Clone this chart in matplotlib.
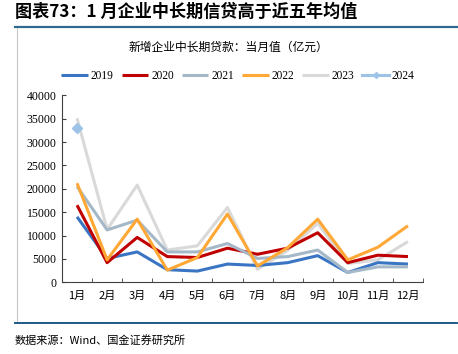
import matplotlib
matplotlib.use("Agg")
import matplotlib.pyplot as plt
from matplotlib.lines import Line2D

plt.rcParams['font.family'] = ['Noto Sans CJK SC', 'DejaVu Sans']

months = ["1月", "2月", "3月", "4月", "5月", "6月", "7月", "8月", "9月", "10月", "11月", "12月"]
y2019 = [14000, 5100, 6500, 2700, 2400, 3900, 3600, 4200, 5700, 2100, 4200, 3900]
y2020 = [16500, 4200, 9600, 5500, 5300, 7300, 6000, 7300, 10600, 4200, 5800, 5500]
y2021 = [20500, 11200, 13300, 6500, 6500, 8300, 5100, 5500, 6900, 2100, 3300, 3300]
y2022 = [21200, 4800, 13500, 2600, 5300, 14600, 3500, 7400, 13500, 4800, 7500, 12100]
y2023 = [35100, 11300, 20800, 6900, 7800, 16000, 2800, 6800, 12600, 4000, 4800, 8700]
y2024 = [33100]
years = ["2019", "2020", "2021", "2022", "2023", "2024"]
colors = ["#3A75C4", "#C00000", "#A5B8C8", "#FFA836", "#D9D9D9", "#9DC3E6"]
yticks = [0, 5000, 10000, 15000, 20000, 25000, 30000, 35000, 40000]

W, H = 458, 354
fig = plt.figure(figsize=(W / 100, H / 100), dpi=100)

# title and frame lines
fig.text(15 / W, 1 - 12 / H, "图表73：1 月企业中长期信贷高于近五年均值", fontsize=12.3,
         fontweight='bold', fontstyle='italic', va='center', ha='left', color='black')
fig.add_artist(Line2D([15 / W, 457 / W], [1 - 26.5 / H, 1 - 26.5 / H], color='#2E6A8E', lw=1.6))
fig.add_artist(Line2D([17 / W, 17 / W], [1 - 28 / H, 1 - 321 / H], color='#C8C8C8', lw=0.8))
fig.add_artist(Line2D([15 / W, 457 / W], [1 - 323 / H, 1 - 323 / H], color='#1F5A85', lw=1.4))
fig.text(15 / W, 1 - 340 / H, "数据来源：Wind、国金证券研究所", fontsize=8, va='center', ha='left')
fig.text(228 / W, 1 - 47 / H, "新增企业中长期贷款：当月值（亿元）", fontsize=8.5, va='center', ha='center')

ax = fig.add_axes([62 / W, 1 - 282.3 / H, (423 - 62) / W, (282.3 - 95.3) / H])
x = list(range(len(months)))
series = [y2019, y2020, y2021, y2022, y2023]
order = [4, 2, 1, 0, 3]
handles = {}
for i in order:
    h, = ax.plot(x, series[i], color=colors[i], lw=2.2, solid_capstyle='butt', zorder=2 + i if i != 4 else 1)
    handles[i] = h
h24, = ax.plot(x[:len(y2024)], y2024, color=colors[5], lw=2.2, marker='D', markersize=5, zorder=8)
handles[5] = h24

ax.set_xlim(-0.5, 11.5)
ax.set_ylim(0, 40000)
ax.set_yticks(yticks)
ax.set_yticklabels([str(v) for v in yticks], fontfamily='Liberation Serif', fontsize=8.5)
ax.set_xticks(x)
ax.set_xticklabels(months, fontsize=8)
ax.set_xticks([i + 0.5 for i in range(-1, 12)], minor=True)
ax.tick_params(axis='x', which='major', length=0, pad=6)
ax.tick_params(axis='x', which='minor', length=3, direction='in', color='#404040')
ax.tick_params(axis='y', length=3, direction='in', color='#404040', pad=4)
for s in ['top', 'right']:
    ax.spines[s].set_visible(False)
for s in ['left', 'bottom']:
    ax.spines[s].set_color('#404040')
    ax.spines[s].set_linewidth(0.8)

leg = fig.legend([handles[i] for i in range(6)], years, loc='center', bbox_to_anchor=(238 / W, 1 - 76 / H),
                 ncol=6, frameon=False, handlelength=2.3, handletextpad=0.25, columnspacing=0.7,
                 prop={'family': 'Liberation Serif', 'size': 8.3})
for lh in leg.legend_handles:
    lh.set_markersize(3)

fig.savefig("out.png", dpi=100)
